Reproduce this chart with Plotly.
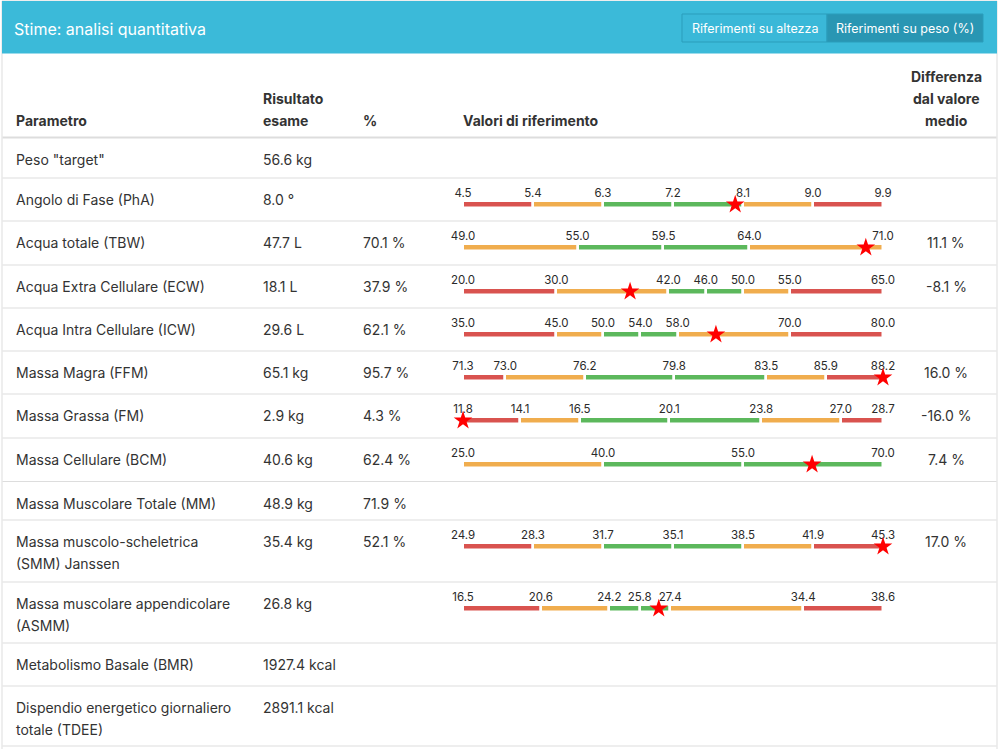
import plotly.graph_objects as go

W, H = 998, 749

# ── data ────────────────────────────────────────────────────────────────
params = [
    'Peso "target"', "Angolo di Fase (PhA)", "Acqua totale (TBW)",
    "Acqua Extra Cellulare (ECW)", "Acqua Intra Cellulare (ICW)",
    "Massa Magra (FFM)", "Massa Grassa (FM)", "Massa Cellulare (BCM)",
    "Massa Muscolare Totale (MM)", "Massa muscolo-scheletrica|(SMM) Janssen",
    "Massa muscolare appendicolare|(ASMM)", "Metabolismo Basale (BMR)",
    "Dispendio energetico giornaliero|totale (TDEE)",
]
result_vals = [56.6, 8.0, 47.7, 18.1, 29.6, 65.1, 2.9, 40.6, 48.9, 35.4, 26.8, 1927.4, 2891.1]
result_units = ["kg", "°", "L", "L", "L", "kg", "kg", "kg", "kg", "kg", "kg", "kcal", "kcal"]
pct_vals = [None, None, 70.1, 37.9, 62.1, 95.7, 4.3, 62.4, 71.9, 52.1, None, None, None]
diff_vals = [None, None, 11.1, -8.1, None, 16.0, -16.0, 7.4, None, 17.0, None, None, None]

ref_limits = [
    None,
    [4.5, 5.4, 6.3, 7.2, 8.1, 9.0, 9.9],
    [49.0, 55.0, 59.5, 64.0, 71.0],
    [20.0, 30.0, 42.0, 46.0, 50.0, 55.0, 65.0],
    [35.0, 45.0, 50.0, 54.0, 58.0, 70.0, 80.0],
    [71.3, 73.0, 76.2, 79.8, 83.5, 85.9, 88.2],
    [11.8, 14.1, 16.5, 20.1, 23.8, 27.0, 28.7],
    [25.0, 40.0, 55.0, 70.0],
    None,
    [24.9, 28.3, 31.7, 35.1, 38.5, 41.9, 45.3],
    [16.5, 20.6, 24.2, 25.8, 27.4, 34.4, 38.6],
    None,
    None,
]
ref_zones = [
    None,
    "ROGGOR",
    "OGGO",
    "ROGGOR",
    "ROGGOR",
    "ROGGOR",
    "ROGGOR",
    "OGG",
    None,
    "ROGGOR",
    "ROGGOR",
    None,
    None,
]

# ── layout constants ────────────────────────────────────────────────────
row_edges = [137.5, 178, 221, 265, 308, 351, 394, 438, 481.5, 520, 582, 643, 686, 746]
ZONE_COLORS = {"R": "#d9534f", "O": "#f0ad4e", "G": "#5cb85c"}
TEXT = "#333333"
FONT = "Inter"
BAR_X0, BAR_X1 = 463, 883
COL_X = [16, 263, 363]
DIFF_CX = 946
LINE_H = 21.5


def px(x):
    return x / W


fig = go.Figure()
annotations = []
shapes = []


def add_text(x, y, text, size=14, color=TEXT, bold=False, xanchor="left"):
    if xanchor == "left":
        x -= 2  # annotation box padding
    annotations.append(dict(
        x=px(x), y=y, xref="paper", yref="y", text=f"<b>{text}</b>" if bold else text,
        showarrow=False, xanchor=xanchor, yanchor="middle",
        font=dict(family=FONT, size=size, color=color),
    ))


# card + heading
shapes.append(dict(type="rect", xref="paper", yref="y", x0=px(2), x1=px(997), y0=1, y1=760,
                   line=dict(color="#dddddd", width=1), fillcolor="white", layer="below"))
shapes.append(dict(type="rect", xref="paper", yref="y", x0=px(2), x1=px(997), y0=1, y1=53.5,
                   line=dict(width=0), fillcolor="#3bbad9", layer="below"))
add_text(14, 28.5, "Stime: analisi quantitativa", size=16, color="white")

# toggle buttons
shapes.append(dict(type="rect", xref="paper", yref="y", x0=px(682), x1=px(827), y0=14, y1=42,
                   line=dict(color="#2a9dbb", width=1), fillcolor="#3ab8d8", layer="below"))
shapes.append(dict(type="rect", xref="paper", yref="y", x0=px(827), x1=px(983), y0=14, y1=42,
                   line=dict(color="#2a9dbb", width=1), fillcolor="#2996b3", layer="below"))
add_text(754.5, 28, "Riferimenti su altezza", size=12.5, color="white", xanchor="center")
add_text(905, 28, "Riferimenti su peso (%)", size=12.5, color="white", xanchor="center")

# column headers
add_text(COL_X[0], 120, "Parametro", bold=True)
add_text(COL_X[1], 98, "Risultato", bold=True)
add_text(COL_X[1], 120, "esame", bold=True)
add_text(COL_X[2], 120, "%", bold=True)
add_text(BAR_X0, 120, "Valori di riferimento", bold=True)
for k, line in enumerate(["Differenza", "dal valore", "medio"]):
    add_text(DIFF_CX, 76 + k * 22, line, bold=True, xanchor="center")

# row separators
for k, ye in enumerate(row_edges):
    shapes.append(dict(type="line", xref="paper", yref="y", x0=px(2.5), x1=px(996.5), y0=ye, y1=ye,
                       line=dict(color="#dddddd", width=2 if k == 0 else 1), layer="below"))

axis_n = 1
for i, name in enumerate(params):
    top = row_edges[i]
    ty = top + LINE_H
    for k, line in enumerate(name.split("|")):
        add_text(COL_X[0], ty + k * LINE_H, line)
    add_text(COL_X[1], ty, f"{result_vals[i]:.1f} {result_units[i]}")
    if pct_vals[i] is not None:
        add_text(COL_X[2], ty, f"{pct_vals[i]:.1f} %")
    if diff_vals[i] is not None:
        add_text(DIFF_CX, ty, f"{diff_vals[i]:.1f} %", xanchor="center")

    lims = ref_limits[i]
    if lims is None:
        continue
    axis_n += 1
    xa = f"x{axis_n}"
    fig.update_layout(**{f"xaxis{axis_n}": dict(
        domain=[px(BAR_X0), px(BAR_X1)], range=[lims[0], lims[-1]], anchor="y",
        visible=False, fixedrange=True)})
    bar_y = top + 26.5
    lab_y = top + 16.5
    zones = ref_zones[i]
    fig.add_trace(go.Bar(
        orientation="h", xaxis=xa, yaxis="y",
        y=[bar_y] * len(zones),
        base=lims[:-1],
        x=[b - a for a, b in zip(lims[:-1], lims[1:])],
        width=7.5,
        marker=dict(color=[ZONE_COLORS[z] for z in zones], line=dict(color="white", width=2.5)),
        hoverinfo="skip", showlegend=False,
    ))
    fig.add_trace(go.Scatter(
        xaxis=xa, yaxis="y", x=lims, y=[lab_y] * len(lims), mode="text",
        text=[f"{v:.1f}" for v in lims], textposition="middle center",
        textfont=dict(family=FONT, size=11.5, color="#2a2a2a"),
        hoverinfo="skip", showlegend=False, cliponaxis=False,
    ))
    val = pct_vals[i] if pct_vals[i] is not None else result_vals[i]
    val = min(max(val, lims[0]), lims[-1])
    fig.add_trace(go.Scatter(
        xaxis=xa, yaxis="y", x=[val], y=[bar_y], mode="markers",
        marker=dict(symbol="star", size=14, color="#ff0000", line=dict(width=0)),
        hoverinfo="skip", showlegend=False, cliponaxis=False,
    ))

fig.update_layout(
    width=W, height=H,
    margin=dict(l=0, r=0, t=0, b=0),
    paper_bgcolor="white",
    plot_bgcolor="rgba(0,0,0,0)",
    xaxis=dict(domain=[px(BAR_X0), px(BAR_X1)], visible=False, range=[0, 1]),
    yaxis=dict(range=[H, 0], domain=[0, 1], visible=False, fixedrange=True),
    shapes=shapes,
    annotations=annotations,
    barmode="overlay",
    bargap=0,
)

# the page's default body margin would push the figure off the window
fig.write_html("out.html", config={"displayModeBar": False},
               post_script="document.body.style.margin='0';")
